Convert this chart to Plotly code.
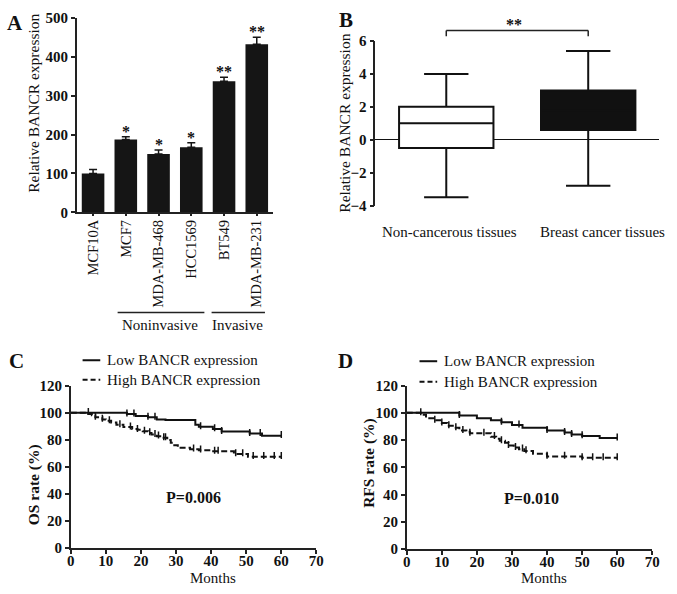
import numpy as np
import plotly.graph_objects as go

# ---- panel A: BANCR expression in cell lines
cell_lines = ["MCF10A", "MCF7", "MDA-MB-468", "HCC1569", "BT549", "MDA-MB-231"]
expr = [100, 187, 150, 167, 337, 432]
expr_err = [10, 7, 10, 12, 10, 18]
stars = ["", "*", "*", "*", "**", "**"]

# ---- panel B: tissue box plot (summary stats)
tissues = ["Non-cancerous tissues", "Breast cancer tissues"]
box_min = [-3.5, -2.8]
box_q1 = [-0.5, 0.6]
box_med = [1.0, 1.8]
box_q3 = [2.0, 3.0]
box_max = [4.0, 5.4]

# ---- panel C: overall survival
os_low_t = [0, 16, 18.5, 22, 24.5, 27, 35.5, 36.5, 40.5, 43, 51, 54.5, 60]
os_low_s = [100, 99, 97.5, 96.5, 95, 94.5, 91, 89.5, 88, 86, 84.5, 83, 83]
os_low_cens = [5, 16, 18, 22, 24, 37, 41, 43, 51, 54, 60]
os_high_t = [0, 5, 6, 7, 9, 10, 11.5, 13, 15, 17.5, 19, 20.5, 22, 23, 24.5, 26,
             27.5, 28.5, 29.5, 30.5, 34, 36.5, 40, 46.5, 50.5, 60]
os_high_s = [100, 99, 98, 96.5, 95, 94, 92.7, 91, 89.3, 88, 87.4, 86.2, 85, 83.8,
             82.6, 81.4, 79.7, 77.8, 75.9, 74, 73, 72.3, 71.5, 69.5, 67.5, 67.5]
os_high_cens = [7, 9, 11, 14, 17, 19, 21, 22.5, 24, 25, 26.5, 27, 35, 37, 41, 42,
                47, 49, 52, 55, 58, 60]

# ---- panel D: relapse-free survival
rfs_low_t = [0, 15, 20, 24, 27, 30, 33, 40, 45, 47, 50, 55, 60]
rfs_low_s = [100, 98, 96, 94.5, 93, 91, 89, 87, 85.5, 84, 83, 81.5, 81.5]
rfs_low_cens = [4, 15, 27, 32, 40, 45, 47, 50, 60]
rfs_high_t = [0, 4, 5.5, 8, 10, 11.5, 13.5, 15, 17, 18, 24, 25.5, 26.5, 28, 29,
              30.5, 32, 33.5, 36, 40, 50, 60]
rfs_high_s = [100, 98.5, 96, 94.5, 92.5, 90.5, 89, 87, 86, 85, 82.5, 81, 79.5, 78,
              76, 74.5, 73.3, 72, 70, 68, 67, 67]
rfs_high_cens = [8, 10, 12, 14, 16, 18, 22, 25, 27, 29, 31, 33, 34, 40, 45, 50,
                 53, 56, 60]

W, H = 677, 594
FONT = "Liberation Serif"
AX = "#222"


def px(x):
    return x / W


def py(y):
    return 1 - y / H


fig = go.Figure()

# A bars
fig.add_trace(go.Bar(
    x=cell_lines, y=expr, marker=dict(color="#151515", line=dict(width=0)),
    error_y=dict(type="data", array=expr_err, arrayminus=[0] * 6,
                 color="#151515", thickness=1.5, width=4),
    xaxis="x", yaxis="y", showlegend=False,
))

# B boxes
fills = ["white", "#111111"]
for i in range(2):
    fig.add_trace(go.Box(
        x=[i], q1=[box_q1[i]], median=[box_med[i]], q3=[box_q3[i]],
        lowerfence=[box_min[i]], upperfence=[box_max[i]],
        fillcolor=fills[i], line=dict(color="#111111", width=2),
        whiskerwidth=0.47, boxpoints=False, xaxis="x2", yaxis="y2",
        showlegend=False,
    ))


def km(t, s, cens, dash, xa, ya):
    t = np.array(t, dtype=float)
    s = np.array(s, dtype=float)
    c = np.array(cens, dtype=float)
    cs = s[np.searchsorted(t, c, side="right") - 1]
    fig.add_trace(go.Scatter(
        x=t, y=s, mode="lines", line=dict(color="#111", width=2, shape="hv", dash=dash),
        xaxis=xa, yaxis=ya, showlegend=False,
    ))
    fig.add_trace(go.Scatter(
        x=c, y=cs + 0.8, mode="markers",
        marker=dict(symbol="line-ns", size=5, line=dict(color="#111", width=1.5)),
        xaxis=xa, yaxis=ya, showlegend=False,
    ))


km(os_low_t, os_low_s, os_low_cens, "solid", "x3", "y3")
km(os_high_t, os_high_s, os_high_cens, "6px,3px", "x3", "y3")
km(rfs_low_t, rfs_low_s, rfs_low_cens, "solid", "x4", "y4")
km(rfs_high_t, rfs_high_s, rfs_high_cens, "6px,3px", "x4", "y4")

tick_b = dict(family=FONT, size=15, color="#111", weight="bold")
ax_common = dict(showline=True, linecolor=AX, linewidth=1.5, ticks="outside",
                 tickcolor=AX, tickwidth=1.5, ticklen=4, showgrid=False,
                 zeroline=False)
km_x = dict(range=[0, 70], dtick=10, tickfont=tick_b, ticklabelstandoff=-6, **ax_common)
km_y = dict(range=[0, 120], dtick=20, tickfont=tick_b, **ax_common)

fig.update_layout(
    width=W, height=H, margin=dict(l=0, r=0, t=0, b=0),
    plot_bgcolor="white", paper_bgcolor="white",
    font=dict(family=FONT, size=15, color="#111"),
    bargap=0.31, boxgap=0.335, boxgroupgap=0,
    xaxis=dict(domain=[px(74), px(274)], anchor="y", range=[-0.5, 5.5],
               tickangle=-90, ticklabelstandoff=-2,
               tickfont=dict(family=FONT, size=14.5, color="#111"),
               **{**ax_common, "ticklen": 2}),
    yaxis=dict(domain=[py(210), py(10)], anchor="x", range=[0, 500], dtick=100,
               tickfont=tick_b, **ax_common),
    xaxis2=dict(domain=[px(378), px(667)], anchor="y2", range=[-0.5, 1.5],
                showline=False, ticks="", showgrid=False, zeroline=False,
                showticklabels=False),
    yaxis2=dict(domain=[py(203), py(34)], anchor="x2", range=[-4, 6], dtick=2,
                tickfont=tick_b, **{**ax_common, "zeroline": True},
                zerolinecolor="#111", zerolinewidth=1.2),
    xaxis3=dict(domain=[px(68), px(318)], anchor="y3", **km_x),
    yaxis3=dict(domain=[py(555), py(388)], anchor="x3", **km_y),
    xaxis4=dict(domain=[px(410), px(660)], anchor="y4", **km_x),
    yaxis4=dict(domain=[py(556), py(388)], anchor="x4", **km_y),
)

ann = []
shapes = []
C = dict(xanchor="center", yanchor="middle", showarrow=False)

# asterisks above bars
for name, v, e, st in zip(cell_lines, expr, expr_err, stars):
    if st:
        ann.append(dict(x=name, y=v + e, xref="x", yref="y", text=st, showarrow=False,
                        xanchor="center", yanchor="bottom", yshift=-5,
                        font=dict(size=16, weight="bold", color="#111")))

# group brackets under panel A
for x0, x1, label, xc in [(0.75, 3.4, "Noninvasive", 2.05), (3.62, 5.25, "Invasive", 4.42)]:
    shapes.append(dict(type="line", xref="x", yref="paper", x0=x0, x1=x1,
                       y0=py(313), y1=py(313), line=dict(color="#222", width=1.5)))
    ann.append(dict(x=xc, y=py(326), xref="x", yref="paper", text=label,
                    font=dict(size=15), **C))

# category labels for panel B (the right one sits offset in the original)
for xc, label in zip([0.02, 1.1], tissues):
    ann.append(dict(x=xc, y=py(230), xref="x2", yref="paper", text=label,
                    font=dict(size=15), **C))

# significance bracket panel B
shapes.append(dict(type="line", xref="x2", yref="paper", x0=0, x1=1,
                   y0=py(23), y1=py(23), line=dict(color="#222", width=1.5)))
for xb in [0, 1]:
    shapes.append(dict(type="line", xref="x2", yref="paper", x0=xb, x1=xb,
                       y0=py(23), y1=py(29), line=dict(color="#222", width=1.5)))
ann.append(dict(x=0.48, y=py(17), xref="x2", yref="paper", text="**",
                font=dict(size=16, weight="bold"), **C))

# axis titles
for x, y, txt, bold in [(30, 98, "Relative BANCR expression", False),
                        (347, 118, "Relative BANCR expression", False),
                        (30, 490, "OS rate (%)", True),
                        (372, 467, "RFS rate (%)", True)]:
    ann.append(dict(x=px(x), y=py(y), xref="paper", yref="paper", text=txt,
                    textangle=-90, font=dict(size=15.5, weight="bold" if bold else "normal"),
                    **C))
for x in [213, 550]:
    ann.append(dict(x=px(x), y=py(586), xref="paper", yref="paper", text="Months",
                    font=dict(size=15), **C))

# panel letters
for x, y, letter in [(11, 15, "A"), (348, 12, "B"), (13, 363, "C"), (348, 363, "D")]:
    ann.append(dict(x=px(x), y=py(y), xref="paper", yref="paper", text=letter,
                    font=dict(size=21, weight="bold"), **C))

# P values
ann.append(dict(x=35, y=37, xref="x3", yref="y3", text="P=0.006",
                font=dict(size=16, weight="bold"), **C))
ann.append(dict(x=35.5, y=37, xref="x4", yref="y4", text="P=0.010",
                font=dict(size=16, weight="bold"), **C))

# manual legends for C and D
for x0, x1, yl, yh in [(80, 98, 362, 382), (423, 441, 363, 384)]:
    shapes.append(dict(type="line", xref="paper", yref="paper", x0=px(x0), x1=px(x1),
                       y0=py(yl), y1=py(yl), line=dict(color="#111", width=2)))
    shapes.append(dict(type="line", xref="paper", yref="paper", x0=px(x0), x1=px(x1),
                       y0=py(yh), y1=py(yh), line=dict(color="#111", width=2, dash="5px,3px")))
    for yy, txt in [(yl, "Low BANCR expression"), (yh, "High BANCR expression")]:
        ann.append(dict(x=px(x1 + 5), y=py(yy), xref="paper", yref="paper",
                        text=txt, xanchor="left", yanchor="middle", showarrow=False,
                        font=dict(size=15)))

fig.update_layout(annotations=ann, shapes=shapes)

# pin the figure to the page origin (no body margin, no scroll overflow)
pin = """
var gd = document.getElementById('{plot_id}');
document.documentElement.style.margin = '0';
document.body.style.margin = '0';
document.documentElement.style.overflow = 'hidden';
document.body.style.overflow = 'hidden';
gd.style.position = 'fixed';
gd.style.left = '0px';
gd.style.top = '0px';
"""
fig.write_html("out.html", config={"displayModeBar": False}, post_script=pin)
